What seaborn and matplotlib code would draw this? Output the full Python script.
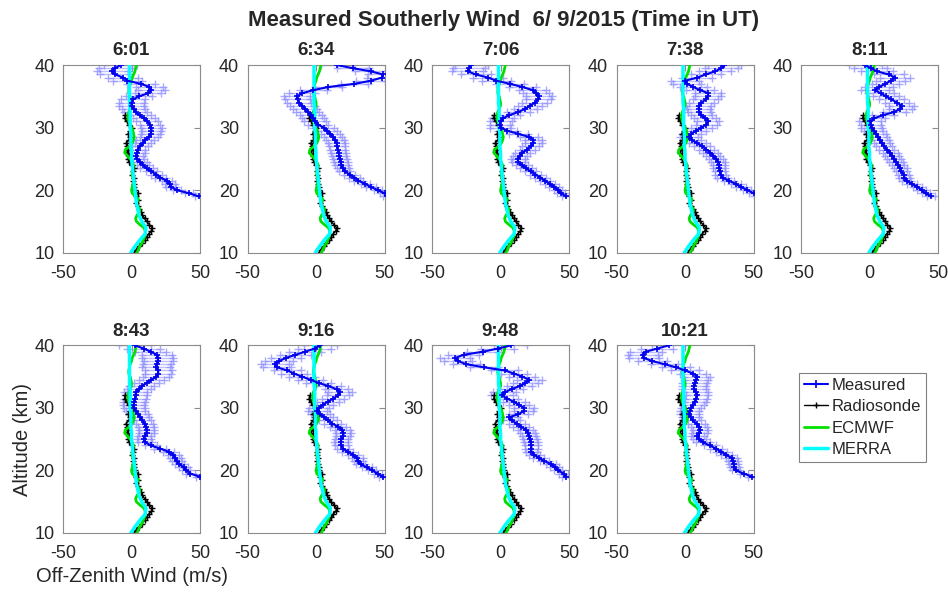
import numpy as np
import matplotlib
matplotlib.use("Agg")
import matplotlib.pyplot as plt
from matplotlib.lines import Line2D
import seaborn as sns

sns.set_style("white")
plt.rcParams["font.family"] = ["Liberation Sans", "DejaVu Sans"]
plt.rcParams["axes.unicode_minus"] = False

# panel times (UT)
times = ["6:01", "6:34", "7:06", "7:38", "8:11", "8:43", "9:16", "9:48", "10:21"]

# altitude grids (km)
alt_meas = np.arange(19, 40.01, 0.5)
alt_sonde = np.arange(10, 32.01, 0.5)
alt_ecmwf = np.arange(10, 40.01, 0.5)
alt_merra = np.arange(10, 40.01, 1.0)

# measured off-zenith wind (m/s), 19..40 km every 0.5 km
meas_0601 = [49, 42, 33, 29, 28, 26, 21, 18, 14.5, 11, 8.5, 6, 4, 3.5, 4, 4.5, 6, 8.5, 10, 12.5,
             14, 14.5, 14.5, 13.5, 11.5, 9, 6, 3, 1.5, 0, 0, 1, 5.5, 12, 14.5, 13, 7, -3, -6, -12,
             -14, -12, -8]
meas_0634 = [52, 50, 45, 40, 36, 31, 28, 24.5, 21, 19.5, 18.5, 18, 17.5, 17, 16.5, 16, 15.5, 15, 14, 12.5,
             10.5, 8, 5.5, 1.5, -0.5, -2, -4, -6, -8, -10, -12.5, -13.5, -14, -10, -2, 9, 28, 40, 48, 49,
             40, 27, 15.5]
meas_0706 = [48, 44, 42, 39, 36, 32.5, 29, 25.5, 22, 18.5, 15.5, 13, 12.5, 14, 16, 19.5, 22, 24, 24, 21,
             13, 5, 0, -0.5, 0, 2, 6.5, 13, 18, 21.5, 25, 27.5, 28, 26, 23.5, 16, 7, -3, -9, -18,
             -24, -23, -21.5]
meas_0738 = [53, 50, 45.5, 41, 37, 32, 27.5, 26, 25.5, 25, 25, 24, 22.5, 20.5, 18.5, 15.5, 12.5, 9, 5, 3,
             4.5, 8, 12, 15.5, 17, 14.5, 12, 10.5, 10, 10, 12, 15, 16.5, 17, 11, 6, 1.5, 0, 9, 15,
             22, 26.5, 28.5]
meas_0811 = [45, 41, 38, 35, 31, 27, 25.5, 25, 23, 22.5, 21, 19.5, 18, 16.5, 15, 12.5, 10.5, 9, 7.5, 6.5,
             5, 3, 1.5, 1, 0.5, 3.5, 10, 18, 22.5, 23.5, 20, 16, 12, 8, 4, 7, 11.5, 15.5, 18.5, 14,
             5.5, 1, -3]
meas_0843 = [50, 43, 40, 38, 35, 33, 32, 30.5, 27, 21, 14, 10, 9, 9.5, 11, 11, 10.5, 9.5, 8, 6.5,
             5, 3, 2, 1.5, 2, 2.5, 3, 3, 5.5, 7.5, 11, 14.5, 18, 19.5, 19.5, 18, 18.5, 19.5, 19, 18.5,
             14, 9, 2.5]
meas_0916 = [49, 45, 41, 37, 32.5, 31, 30, 27, 23, 19.5, 18.5, 18, 18.5, 19.8, 20, 19, 16, 12, 8.5, 6,
             3, 1, 2, 5, 8.5, 12.5, 16, 17.5, 15, 9, 2, -4, -10, -16, -21, -28.5, -30, -27, -22, -15,
             -8, -1, 3]
meas_0948 = [48, 46, 42, 39.5, 37, 32, 28, 24.5, 22.5, 22.5, 22.5, 22, 21.5, 21, 20, 18.5, 15, 12, 8, 6,
             13, 17, 17, 13.5, 9.5, 5, 1, 3, 8, 14, 18, 21, 16, 10, 3, -12, -25, -31, -33, -27,
             -13, -2, 7.5]
meas_1021 = [49, 43, 37, 36, 35.5, 35, 34, 30, 26.5, 22.5, 18, 13, 10.5, 9, 10.5, 11, 10, 8.5, 5.5, 4,
             3, 3.5, 4.5, 6, 7, 8, 9, 8, 6.5, 6.5, 7, 8, 9, 6, 0, -6.5, -15, -24, -30, -31,
             -28.5, -20.5, -12]
# measured uncertainty half-width (m/s), same altitude grid
meas_err = [3, 3, 3, 3.5, 3.5, 3.5, 4, 4, 4, 4.5, 4.5, 5, 5, 5, 5.5, 5.5, 6, 6, 6.5, 6.5,
            7, 7, 7.5, 7.5, 8, 8, 8, 8.5, 8.5, 9, 9, 9, 9.5, 9.5, 10, 10, 10, 10.5, 11, 11,
            11.5, 12, 12]

# radiosonde, 10..32 km every 0.5 km
sonde = [2, 3.5, 5.5, 7.5, 9.5, 11, 12.5, 14.5, 15, 13, 11, 9.5, 8, 7, 5.5, 4.5, 3, 4.5, 3, 4.5,
         2.5, 2, 1.5, 1, 1.5, 0.5, 1, 1.5, 0, -1.5, -2.5, -2, -3.5, -2.5, -3, -4, -2, -1, -2.5, -1,
         0, -2, -3.5, -5, -4.5]
# ECMWF, 10..40 km every 0.5 km
ecmwf = [4, 5, 6, 7.5, 8.5, 9.5, 10, 10, 9, 6, 3.5, 3, 4, 6, 6, 4, 3.5, 5, 3, 0.5,
         0, 0.5, 1, 1.5, 1, 0.5, 0.5, 1, 1.5, 0.5, -1, -3, -5, -4.5, -1.5, 0.5, 1.5, 2, 1.5, 1,
         0, -1, -2, -2.5, -2.5, -2, -1, 0, 0, -0.5, -1, -2, -2, -1.5, -1, 0, 0.5, 1.5, 2.5, 3, 3.5]
# MERRA, 10..40 km every 1 km
merra = [-0.5, 2.5, 6, 10, 10.5, 7.5, 5.5, 4.5, 3.5, 3, 2.5, 2, 1.5, 1, 0.5, 0, 0, -0.5, -0.5, -0.5,
         -1, -1, -1, -1, -1.5, -1.5, -1.5, -1.5, -1.5, -1.5, -1.5]

measured = [meas_0601, meas_0634, meas_0706, meas_0738, meas_0811,
            meas_0843, meas_0916, meas_0948, meas_1021]

c_meas = "#0000ee"
c_err = "#8c8cff"
c_sonde = "black"
c_ecmwf = "#00e000"
c_merra = "#00ffff"
gray = "#8c8c8c"

fig, axes = plt.subplots(2, 5, figsize=(9.48, 5.92), dpi=100)
fig.subplots_adjust(left=0.0665, right=0.9895, top=0.890, bottom=0.0997,
                    wspace=0.347, hspace=0.495)

err = np.array(meas_err)
for i, ax in enumerate(axes.flat[:9]):
    vals = np.array(measured[i])
    # uncertainty bars with light '+' ends
    ax.errorbar(vals, alt_meas, xerr=err, fmt="none", ecolor=c_err, elinewidth=1,
                alpha=0.55, zorder=1)
    ax.plot(vals - err, alt_meas, "+", color=c_err, ms=6, mew=1, alpha=0.75, zorder=1)
    ax.plot(vals + err, alt_meas, "+", color=c_err, ms=6, mew=1, alpha=0.75, zorder=1)
    sns.lineplot(x=sonde, y=alt_sonde, ax=ax, orient="y", sort=False, estimator=None,
                 color=c_sonde, lw=1, marker="+", ms=4, mew=1, mec=c_sonde, zorder=2)
    sns.lineplot(x=ecmwf, y=alt_ecmwf, ax=ax, orient="y", sort=False, estimator=None,
                 color=c_ecmwf, lw=2, zorder=3)
    sns.lineplot(x=merra, y=alt_merra, ax=ax, orient="y", sort=False, estimator=None,
                 color=c_merra, lw=2.5, zorder=4)
    sns.lineplot(x=vals, y=alt_meas, ax=ax, orient="y", sort=False, estimator=None,
                 color=c_meas, lw=1.5, marker="+", ms=5, mew=1.2, mec=c_meas, zorder=5)

    ax.set_xlim(-50, 50)
    ax.set_ylim(10, 40)
    ax.set_xticks([-50, 0, 50])
    ax.set_yticks([10, 20, 30, 40])
    ax.set_xlabel("")
    ax.set_ylabel("")
    ax.set_title(times[i], fontsize=13.5, fontweight="bold", pad=7)
    ax.tick_params(direction="in", length=4, width=0.8, colors=gray, labelcolor="#262626",
                   labelsize=13, top=True, right=True)
    ax.tick_params(axis="x", pad=9)
    ax.tick_params(axis="y", pad=6)
    for s in ax.spines.values():
        s.set_color(gray)
        s.set_linewidth(0.8)

axes[1, 0].set_ylabel("Altitude (km)", fontsize=14.5, color="#262626", labelpad=2)
axes[1, 0].set_xlabel("Off-Zenith Wind (m/s)", fontsize=14.5, color="#262626", labelpad=3)

axes[1, 4].axis("off")
handles = [
    Line2D([], [], color=c_meas, lw=1.5, marker="+", ms=6, mew=1.2),
    Line2D([], [], color=c_sonde, lw=1, marker="+", ms=5, mew=1),
    Line2D([], [], color=c_ecmwf, lw=2),
    Line2D([], [], color=c_merra, lw=2.5),
]
leg = fig.legend(handles, ["Measured", "Radiosonde", "ECMWF", "MERRA"],
                 loc="upper left", bbox_to_anchor=(0.843, 0.370), fontsize=12,
                 frameon=True, fancybox=False, framealpha=1, edgecolor="#808080",
                 handlelength=1.45, handletextpad=0.2, labelspacing=0.38, borderpad=0.3,
                 borderaxespad=0)
leg.get_frame().set_linewidth(0.8)

fig.text(0.531, 0.966, "Measured Southerly Wind  6/ 9/2015 (Time in UT)",
         ha="center", va="center", fontsize=16, fontweight="bold")

fig.savefig("out.png", dpi=100)
